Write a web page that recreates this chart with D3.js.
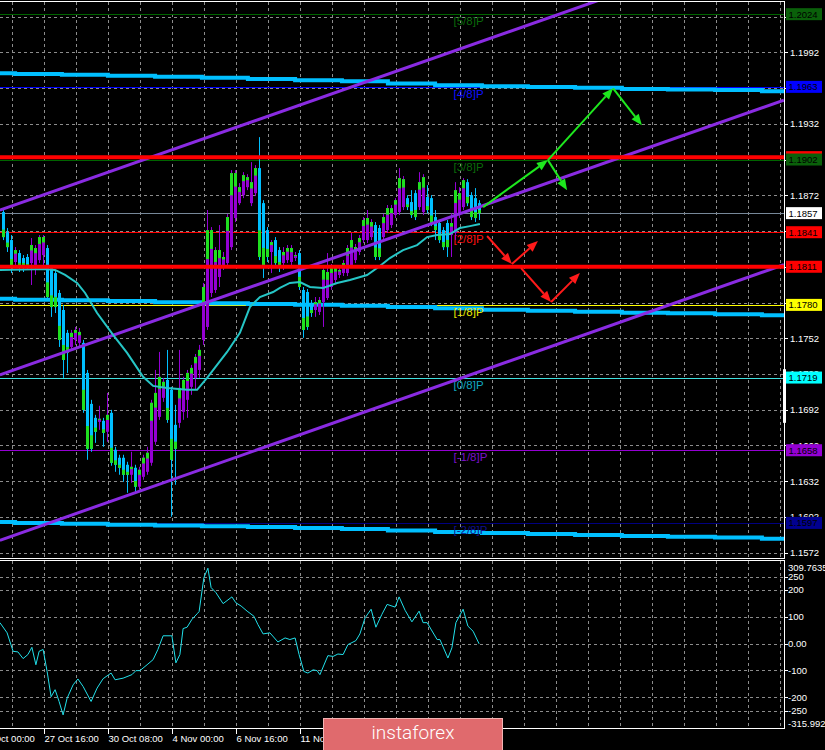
<!DOCTYPE html>
<html><head><meta charset="utf-8">
<script src="https://cdn.jsdelivr.net/npm/d3@7"></script>
<style>html,body{margin:0;padding:0;background:#000;overflow:hidden}svg{display:block}</style>
</head><body>
<svg id="c" width="825" height="750"></svg>
<script>
// ---------------- DATA ----------------
const opens=[1.18579,1.18411,1.18344,1.18160,1.18235,1.18193,1.18202,1.18151,1.18135,1.18176,1.18218,1.18277,1.18109,1.18067,1.17900,1.17757,1.17565,1.17447,1.17506,1.17481,
1.17481,1.17229,1.16969,1.16852,1.16818,1.16827,1.16735,1.16894,1.16584,1.16517,1.16517,1.16458,1.16374,1.16433,1.16274,1.16357,1.16399,1.16475,1.16651,1.16860,
1.17020,1.17170,1.17087,1.16793,1.16810,1.16902,1.17003,1.17112,1.17187,1.17254,1.17506,1.17615,1.17900,1.17925,1.18034,1.18135,1.18151,1.18285,1.18529,1.18654,
1.18721,1.18788,1.18654,1.18738,1.18948,1.18654,1.18428,1.18244,1.18344,1.18260,1.18151,1.18176,1.18160,1.18193,1.18235,1.17925,1.17908,1.17816,1.17757,1.17741,
1.17824,1.17858,1.17950,1.18009,1.18051,1.18067,1.18067,1.18135,1.18176,1.18244,1.18344,1.18344,1.18369,1.18470,1.18445,1.18369,1.18428,1.18470,1.18554,1.18579,
1.18621,1.18696,1.18663,1.18738,1.18621,1.18579,1.18705,1.18696,1.18537,1.18487,1.18428,1.18487,1.18386,1.18403,1.18554,1.18621,1.18830,1.18721,1.18696,1.18654];
const highs=[1.18612,1.18445,1.18386,1.18285,1.18260,1.18218,1.18227,1.18361,1.18302,1.18386,1.18386,1.18302,1.18135,1.18093,1.17925,1.17799,1.17590,1.17590,1.17615,1.17606,
1.17506,1.17254,1.17003,1.16877,1.16953,1.16852,1.17061,1.16919,1.16609,1.16542,1.16542,1.16483,1.16567,1.16458,1.16441,1.16542,1.16609,1.17003,1.17254,1.17405,
1.17187,1.17422,1.17112,1.16961,1.17422,1.17196,1.17254,1.17296,1.17388,1.17464,1.17984,1.18596,1.18453,1.18285,1.18470,1.18244,1.18562,1.18931,1.18931,1.18822,
1.18914,1.18897,1.18998,1.18973,1.19208,1.18679,1.18453,1.18344,1.18369,1.18285,1.18285,1.18302,1.18302,1.18244,1.18260,1.17950,1.17933,1.17841,1.17866,1.17866,
1.18118,1.18235,1.18143,1.18135,1.18118,1.18176,1.18302,1.18403,1.18311,1.18386,1.18537,1.18596,1.18520,1.18495,1.18470,1.18562,1.18638,1.18638,1.18696,1.18948,
1.18881,1.18721,1.18763,1.18763,1.18914,1.18897,1.18805,1.18721,1.18596,1.18512,1.18453,1.18512,1.18570,1.18830,1.18788,1.18864,1.18855,1.18746,1.18780,1.18679];
const lows=[1.18344,1.18244,1.18067,1.18135,1.18076,1.18076,1.18093,1.17967,1.18051,1.18151,1.18135,1.17841,1.17699,1.17732,1.17447,1.17187,1.17229,1.17422,1.17464,1.17439,
1.16894,1.16500,1.16567,1.16642,1.16751,1.16609,1.16651,1.16450,1.16399,1.16374,1.16315,1.16223,1.16307,1.16223,1.16248,1.16332,1.16374,1.16450,1.16626,1.16835,
1.16986,1.16810,1.16022,1.16290,1.16768,1.16835,1.16852,1.17045,1.17087,1.17187,1.17464,1.17590,1.17866,1.17900,1.17950,1.18093,1.18126,1.18260,1.18495,1.18638,
1.18696,1.18763,1.18629,1.18713,1.18176,1.18026,1.18160,1.18067,1.18118,1.18076,1.18093,1.18151,1.18135,1.18168,1.17925,1.17523,1.17590,1.17699,1.17699,1.17715,
1.17615,1.17841,1.17925,1.17984,1.18026,1.18042,1.18042,1.18109,1.18151,1.18218,1.18319,1.18319,1.18344,1.18176,1.18176,1.18344,1.18403,1.18445,1.18529,1.18554,
1.18596,1.18596,1.18529,1.18512,1.18596,1.18554,1.18570,1.18461,1.18344,1.18319,1.18260,1.18202,1.18202,1.18344,1.18529,1.18596,1.18629,1.18512,1.18495,1.18512];
const closes=[1.18369,1.18285,1.18118,1.18260,1.18118,1.18135,1.18118,1.18302,1.18277,1.18369,1.18369,1.17866,1.17782,1.17782,1.17506,1.17338,1.17397,1.17565,1.17590,1.17573,
1.16919,1.16592,1.16592,1.16735,1.16844,1.16726,1.16877,1.16475,1.16458,1.16433,1.16374,1.16374,1.16441,1.16274,1.16416,1.16517,1.16559,1.16978,1.17061,1.17196,
1.17154,1.16835,1.16500,1.16592,1.17103,1.17170,1.17229,1.17271,1.17363,1.17422,1.17950,1.18428,1.18428,1.18260,1.18260,1.18202,1.18537,1.18906,1.18906,1.18788,
1.18889,1.18872,1.18830,1.18948,1.18202,1.18118,1.18202,1.18327,1.18151,1.18118,1.18244,1.18277,1.18277,1.18218,1.17950,1.17590,1.17615,1.17732,1.17824,1.17841,
1.18093,1.18076,1.18118,1.18109,1.18093,1.18151,1.18277,1.18344,1.18285,1.18361,1.18512,1.18529,1.18495,1.18202,1.18202,1.18537,1.18612,1.18612,1.18679,1.18864,
1.18855,1.18621,1.18554,1.18537,1.18830,1.18872,1.18596,1.18487,1.18428,1.18344,1.18285,1.18285,1.18487,1.18763,1.18738,1.18847,1.18654,1.18537,1.18529,1.18570];

// moving average (thin, cyan) vertices: bar index, price
const maBars=[-0.9,10.4,12.9,15.4,18.4,20.4,23.4,27.4,30.9,34.9,37.4,40.9,45.9,48.4,50.9,53.4,55.9,59.1,61.6,64.1,67.4,69.1,71.6,74.1,76.6,79.9,83.4,86.6,90.9,94.1,96.6,99.9,103.4,105.9,108.4,111.6,114.1,116.6,119.1];
const maVals=[1.18093,1.18101,1.18093,1.18051,1.17984,1.17900,1.17732,1.17548,1.17397,1.17196,1.17120,1.17103,1.17087,1.17087,1.17187,1.17296,1.17405,1.17565,1.17782,1.17866,1.17908,1.17942,1.17984,1.17992,1.17950,1.17942,1.17984,1.18009,1.18051,1.18126,1.18193,1.18260,1.18302,1.18369,1.18386,1.18395,1.18445,1.18461,1.18478];

// stepped higher-timeframe lines (thick, sky blue)
const stepStarts=[-2,2.9,14.6,26.1,37.9,49.6,61.1,72.9,84.6,96.1,107.9,119.6,131.1,142.9,154.6,166.1,177.9,189.6];
const stepEnd=197;
const stepUpper=[1.19744,1.19738,1.19731,1.19723,1.19715,1.19706,1.19696,1.19685,1.19677,1.19658,1.19643,1.19635,1.19629,1.19623,1.19612,1.19607,1.19604,1.19593];
const stepMiddle=[1.17852,1.17844,1.17839,1.17833,1.17822,1.17813,1.17808,1.17802,1.17793,1.17782,1.17771,1.17760,1.17751,1.17743,1.17735,1.17729,1.17721,1.17713];
const stepLower=[1.15978,1.15969,1.15963,1.15955,1.15949,1.15941,1.15935,1.15927,1.15919,1.15906,1.15894,1.15885,1.15877,1.15868,1.15861,1.15854,1.15848,1.15837];

// price channel (purple) end points: [bar, price]
const channelUpper=[[-0.9,1.18596],[195.1,1.20901]];
const channelMiddle=[[-0.9,1.17212],[195.1,1.19518]];
const channelLower=[[-0.9,1.15824],[195.1,1.18138]];

// Murrey math levels
const murreyLevels=[1.2024,1.1963,1.1902,1.1841,1.1780,1.1719,1.1658,1.1597];
const murreyNames=["[5/8]P","[4/8]P","[3/8]P","[2/8]P","[1/8]P","[0/8]P","[-1/8]P","[-2/8]P"];
const murreyLabelBar=112.5;

// support / resistance (thick red)
const redLevels=[1.1904,1.1812];
const redLabel="1.1811";
const currentPrice=1.1857;

// price axis ticks
const priceTicks=[1.1572,1.1602,1.1632,1.1662,1.1692,1.1722,1.1752,1.1782,1.1812,1.1842,1.1872,1.1902,1.1932,1.1962,1.1992,1.2022];

// time axis
const timeTickBars=[-6,10,26,42,58,74];
const timeTickLabels=["23 Oct 00:00","27 Oct 16:00","30 Oct 08:00","4 Nov 00:00","6 Nov 16:00","11 Nov 08:00"];
const gridStartBar=2, gridStepBars=8;

// CCI indicator vertices
const cciBars=[-0.9,0.9,2.4,3.6,4.9,6.1,7.1,8.1,8.9,9.9,10.9,11.9,12.9,13.9,14.9,15.9,17.4,18.6,19.9,21.9,23.4,24.9,26.9,27.9,29.9,32.1,33.1,34.1,35.9,37.4,38.6,39.9,42.1,43.1,44.1,44.9,45.9,47.1,48.4,48.9,50.1,51.1,51.9,53.1,54.9,57.1,58.1,59.4,60.9,62.6,63.6,64.9,66.6,68.6,70.4,71.6,72.9,73.9,75.1,76.1,77.4,78.4,79.1,81.1,82.4,83.6,84.9,86.1,88.1,89.1,90.4,91.9,93.1,94.6,95.9,97.9,98.9,100.4,102.1,103.9,104.9,105.9,108.4,109.1,111.1,112.1,113.1,114.9,116.1,117.4,118.9];
const cciVals=[78,40,-29,-31,-56,-41,-14,-79,-29,-22,-104,-198,-172,-216,-266,-204,-154,-132,-160,-216,-166,-131,-110,-135,-129,-116,-101,-101,-79,-60,-22,29,29,-72,-41,56,61,90,111,119,246,281,209,190,149,174,152,140,121,102,71,36,40,6,21,15,21,-41,-104,-110,-98,-101,-116,-45,-48,-39,-41,-4,11,36,96,128,61,109,146,136,174,124,81,121,78,78,15,15,-54,-16,78,128,65,46,-1];
const cciTicks=[250,200,100,0,-100,-200,-250];
const cciTickLabels=["250","200","100","0.00","-100","-200","-250"];
const cciMax=309.7635, cciMin=-315.992;
const cciMaxLabel="309.7635", cciMinLabel="-315.992";

// forecast arrows [bar, price] -> [bar, price]
const greenArrows=[[[119.9,1.18621],[136.1,1.19015]],[[136.1,1.19015],[140.9,1.18763]],[[136.1,1.19015],[152.4,1.19618]],[[152.4,1.19618],[159.6,1.19308]]];
const redArrows=[[[120.9,1.18378],[127.1,1.18143]],[[127.1,1.18143],[133.6,1.18336]],[[129.4,1.18109],[136.9,1.17824]],[[136.9,1.17824],[144.1,1.18067]]];

// ---------------- STYLE / LAYOUT ----------------
const W=825,H=750, plotR=784;
const mainTop=1.5, mainBot=558, indTop=560.5, indBot=728.5;
const FONT="'Liberation Sans', Arial, sans-serif";
const murreyLineColors=["#006400","#0000ff","#006400","#ff0000","#ffff00","#40e0e0","#9400d3","#000080"];
const murreyTextColors=["#0a6a0a","#1010ff","#0a6a0a","#ff1010","#e8e800","#10a8c0","#7a10c8","#10108a"];
const murreyBoxColors=["#0a600a","#0000ff","#0a600a","#ff0000","#ffff00","#00ffff","#9400d3","#000090"];

const svg=d3.select("#c");
const x=d3.scaleLinear().domain([0,1]).range([3.5,7.5]);
const y=d3.scaleLinear().domain([1.1572,1.1992]).range([552.7,52.3]);
const yc=d3.scaleLinear().domain([cciMin,cciMax]).range([728.3,560.5]);
const cr=v=>Math.round(v)+0.5;

svg.append("rect").attr("width",W).attr("height",H).attr("fill","#000");
const defs=svg.append("defs");
defs.append("clipPath").attr("id","cm").append("rect").attr("x",0).attr("y",mainTop).attr("width",plotR).attr("height",mainBot-mainTop);
defs.append("clipPath").attr("id","ci").append("rect").attr("x",0).attr("y",indTop).attr("width",plotR).attr("height",indBot-indTop);

const main=svg.append("g").attr("clip-path","url(#cm)");
const ind=svg.append("g").attr("clip-path","url(#ci)");

// grid
const gridBars=d3.range(gridStartBar,200,gridStepBars).filter(b=>x(b)<plotR);
const gs={stroke:"#8c8c8c","stroke-width":1,"stroke-dasharray":"3,3","shape-rendering":"crispEdges"};
function applyAttrs(sel,o){for(const k in o)sel.attr(k,o[k]);return sel;}
applyAttrs(main.selectAll(".vg").data(gridBars).join("line").attr("x1",d=>cr(x(d))).attr("x2",d=>cr(x(d))).attr("y1",mainTop).attr("y2",mainBot),gs);
applyAttrs(main.selectAll(".hg").data(priceTicks).join("line").attr("x1",0).attr("x2",plotR).attr("y1",d=>cr(y(d))).attr("y2",d=>cr(y(d))),gs);
applyAttrs(ind.selectAll(".vg").data(gridBars).join("line").attr("x1",d=>cr(x(d))).attr("x2",d=>cr(x(d))).attr("y1",indTop).attr("y2",indBot),gs);
applyAttrs(ind.selectAll(".hg").data(cciTicks).join("line").attr("x1",0).attr("x2",plotR).attr("y1",d=>cr(yc(d))).attr("y2",d=>cr(yc(d))),gs);

// murrey thin lines
main.selectAll(".ml").data(murreyLevels).join("line").attr("x1",0).attr("x2",plotR)
 .attr("y1",d=>cr(y(d))).attr("y2",d=>cr(y(d))).attr("stroke",(d,i)=>murreyLineColors[i]).attr("stroke-width",1).attr("shape-rendering","crispEdges");
// current price line
main.append("line").attr("x1",0).attr("x2",plotR).attr("y1",cr(y(currentPrice))).attr("y2",cr(y(currentPrice))).attr("stroke","#778899").attr("stroke-width",1).attr("shape-rendering","crispEdges");

// stepped lines
const stepLine=d3.line().x(d=>x(d[0])).y(d=>y(d[1])).curve(d3.curveStepAfter);
[stepUpper,stepMiddle,stepLower].forEach(arr=>{
  const pts=stepStarts.map((b,i)=>[b,arr[i]]); pts.push([stepEnd,arr[arr.length-1]]);
  main.append("path").attr("d",stepLine(pts)).attr("fill","none").attr("stroke","#00bfff").attr("stroke-width",4);
});

// murrey labels
main.selectAll(".mt").data(murreyLevels).join("text").attr("x",x(murreyLabelBar)).attr("y",d=>y(d)+11)
 .attr("fill",(d,i)=>murreyTextColors[i]).attr("font-family",FONT).attr("font-size",11.5).text((d,i)=>murreyNames[i]);

// candles
const idx=d3.range(opens.length);
const up=i=>closes[i]>=opens[i];
const cg=main.append("g");
cg.selectAll(".wk").data(idx).join("line").attr("x1",i=>x(i)).attr("x2",i=>x(i)).attr("y1",i=>y(highs[i])).attr("y2",i=>y(lows[i]))
 .attr("stroke",i=>up(i)?"#9400d3":"#00bfff").attr("stroke-width",1);
cg.selectAll(".bd").data(idx).join("rect").attr("x",i=>x(i)-1.5).attr("width",3)
 .attr("y",i=>y(Math.max(opens[i],closes[i]))).attr("height",i=>Math.max(1,Math.abs(y(opens[i])-y(closes[i]))))
 .attr("fill",i=>up(i)?"#9400d3":"#00bfff");
cg.selectAll(".gr").data(idx).join("rect").attr("x",i=>x(i)-1.5).attr("width",3)
 .attr("y",i=>{const h=Math.abs(y(opens[i])-y(closes[i]))*0.3;return up(i)?y(closes[i]):y(closes[i])-h;})
 .attr("height",i=>Math.max(1,Math.abs(y(opens[i])-y(closes[i]))*0.3)).attr("fill","#1fe01f");

// channel lines
const pl=d3.line().x(d=>x(d[0])).y(d=>y(d[1]));
[channelUpper,channelMiddle,channelLower].forEach(c=>main.append("path").attr("d",pl(c)).attr("stroke","#8a2be2").attr("stroke-width",3).attr("fill","none"));

// MA line
main.append("path").attr("d",pl(maBars.map((b,i)=>[b,maVals[i]]))).attr("fill","none").attr("stroke","#26c6c6").attr("stroke-width",2);

// red thick levels
main.selectAll(".rl").data(redLevels).join("line").attr("x1",0).attr("x2",plotR).attr("y1",d=>y(d)).attr("y2",d=>y(d)).attr("stroke","#ff0000").attr("stroke-width",4);

// arrows
function arrow(g,seg,color){
  const x1=x(seg[0][0]),y1=y(seg[0][1]),x2=x(seg[1][0]),y2=y(seg[1][1]);
  const a=Math.atan2(y2-y1,x2-x1),L=11,Wd=4.5;
  const bx=x2-L*Math.cos(a),by=y2-L*Math.sin(a);
  g.append("line").attr("x1",x1).attr("y1",y1).attr("x2",bx).attr("y2",by).attr("stroke",color).attr("stroke-width",2);
  g.append("path").attr("d",`M${x2},${y2}L${bx+Wd*Math.sin(a)},${by-Wd*Math.cos(a)}L${bx-Wd*Math.sin(a)},${by+Wd*Math.cos(a)}Z`).attr("fill",color);
}
const ag=main.append("g");
greenArrows.forEach(s=>arrow(ag,s,"#1ee81e"));
redArrows.forEach(s=>arrow(ag,s,"#ff1a1a"));

// CCI line
ind.append("path").attr("d",d3.line().x(d=>x(d[0])).y(d=>yc(d[1]))(cciBars.map((b,i)=>[b,cciVals[i]])))
 .attr("fill","none").attr("stroke","#22e0ea").attr("stroke-width",1);

// borders
const wb={stroke:"#fff","stroke-width":1,"shape-rendering":"crispEdges"};
applyAttrs(svg.append("line").attr("x1",0).attr("x2",plotR+0.5).attr("y1",1.5).attr("y2",1.5),wb);
applyAttrs(svg.append("line").attr("x1",plotR+0.5).attr("x2",plotR+0.5).attr("y1",1.5).attr("y2",mainBot),wb);
applyAttrs(svg.append("line").attr("x1",0).attr("x2",plotR+0.5).attr("y1",mainBot+0.5).attr("y2",mainBot+0.5),wb);
applyAttrs(svg.append("line").attr("x1",0).attr("x2",plotR+0.5).attr("y1",indTop).attr("y2",indTop),wb);
applyAttrs(svg.append("line").attr("x1",plotR+0.5).attr("x2",plotR+0.5).attr("y1",indTop).attr("y2",indBot),wb);
applyAttrs(svg.append("line").attr("x1",0).attr("x2",plotR+0.5).attr("y1",indBot).attr("y2",indBot),wb);

// right price axis
const boxLevels=murreyLevels.concat([redLevels[1],currentPrice]);
const ax=svg.append("g");
ax.selectAll(".pt").data(priceTicks).join("line").attr("x1",plotR).attr("x2",plotR+4).attr("y1",d=>cr(y(d))).attr("y2",d=>cr(y(d))).attr("stroke","#fff").attr("shape-rendering","crispEdges");
// tick labels that would sit entirely under a level box are left out (they are hidden in the original)
const visibleTicks=priceTicks.filter(t=>boxLevels.every(b=>Math.abs(y(t)-y(b))>3));
ax.selectAll(".pl").data(visibleTicks).join("text").attr("x",790).attr("y",d=>y(d)).attr("dy","0.36em")
 .attr("fill","#fff").attr("font-family",FONT).attr("font-size",9.5).text(d=>d.toFixed(4));
// white marker bar on axis
ax.append("rect").attr("x",783).attr("width",3).attr("y",y(1.1726)).attr("height",y(1.1681)-y(1.1726)).attr("fill","#fff");

function box(v,bg,txt){
  ax.append("rect").attr("x",786).attr("y",y(v)-6).attr("width",36).attr("height",12).attr("fill",bg);
  if(txt) ax.append("text").attr("x",788.5).attr("y",y(v)).attr("dy","0.36em").attr("fill","#000").attr("font-family",FONT).attr("font-size",9.5).text(txt);
}
box(redLevels[0],"#ff0000",null);
murreyLevels.forEach((v,i)=>box(v,murreyBoxColors[i],v.toFixed(4)));
box(redLevels[1],"#ff0000",redLabel);
box(currentPrice,"#ffffff",currentPrice.toFixed(4));

// CCI axis
ax.selectAll(".ct").data(cciTicks).join("line").attr("x1",plotR).attr("x2",plotR+4).attr("y1",d=>cr(yc(d))).attr("y2",d=>cr(yc(d))).attr("stroke","#fff").attr("shape-rendering","crispEdges");
ax.selectAll(".cl").data(cciTicks).join("text").attr("x",788).attr("y",d=>yc(d)).attr("dy","0.36em")
 .attr("fill","#fff").attr("font-family",FONT).attr("font-size",9.5).text((d,i)=>cciTickLabels[i]);
ax.append("text").attr("x",788).attr("y",yc(cciMax)+7.5).attr("dy","0.36em").attr("fill","#fff").attr("font-family",FONT).attr("font-size",9.5).text(cciMaxLabel);
ax.append("text").attr("x",788).attr("y",yc(cciMin)-5).attr("dy","0.36em").attr("fill","#fff").attr("font-family",FONT).attr("font-size",9.5).text(cciMinLabel);

// time axis
ax.selectAll(".tt").data(timeTickBars).join("line").attr("x1",b=>cr(x(b))).attr("x2",b=>cr(x(b))).attr("y1",indBot).attr("y2",indBot+5).attr("stroke","#fff").attr("shape-rendering","crispEdges");
ax.selectAll(".tl").data(timeTickBars).join("text").attr("x",b=>x(b)+1).attr("y",742).attr("fill","#fff").attr("font-family",FONT).attr("font-size",9.5).text((b,i)=>timeTickLabels[i]);

// logo
const lg=svg.append("g");
lg.append("rect").attr("x",323.5).attr("y",718.5).attr("width",179).attr("height",40).attr("fill","#e06a6d").attr("stroke","#f2b3b3").attr("stroke-width",1);
lg.append("text").attr("x",413).attr("y",739).attr("text-anchor","middle").attr("fill","#fff").attr("font-family","Roboto, 'Open Sans', sans-serif").attr("font-weight",300).attr("font-size",19).text("instaforex");
</script>
</body></html>
